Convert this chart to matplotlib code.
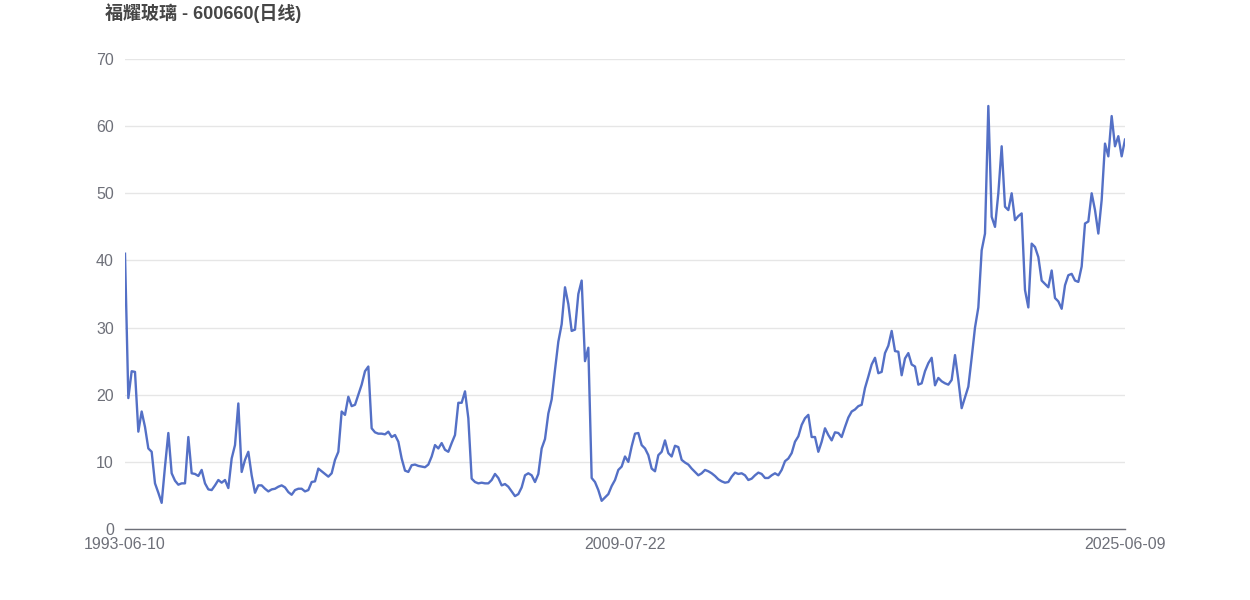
import numpy as np
import matplotlib
matplotlib.use('Agg')
import matplotlib.pyplot as plt

plt.rcParams['font.family'] = ['Liberation Sans', 'Noto Sans CJK SC', 'DejaVu Sans']

# Data (evenly spaced trading-day samples)
title = '福耀玻璃 - 600660(日线)'
date_labels = ['1993-06-10', '2009-07-22', '2025-06-09']
y_ticks = [0, 10, 20, 30, 40, 50, 60, 70]

prices = [
    41.0, 19.5, 23.5, 23.4, 14.5, 17.5, 15.2, 12.0, 11.5, 6.8,
    5.4, 3.9, 9.3, 14.3, 8.3, 7.2, 6.6, 6.8, 6.8, 13.7,
    8.3, 8.2, 7.9, 8.8, 6.8, 5.9, 5.8, 6.5, 7.3, 6.9,
    7.3, 6.1, 10.5, 12.5, 18.7, 8.5, 10.3, 11.5, 8.0, 5.4,
    6.5, 6.5, 6.0, 5.6, 5.9, 6.0, 6.3, 6.5, 6.2, 5.5,
    5.1, 5.8, 6.0, 6.0, 5.6, 5.8, 7.0, 7.1, 9.0, 8.6,
    8.2, 7.8, 8.3, 10.3, 11.5, 17.5, 17.0, 19.7, 18.3, 18.5,
    20.0, 21.5, 23.5, 24.2, 15.0, 14.4, 14.2, 14.2, 14.1, 14.5,
    13.7, 14.0, 13.0, 10.5, 8.7, 8.5, 9.5, 9.6, 9.4, 9.3,
    9.2, 9.6, 10.8, 12.5, 12.0, 12.8, 11.8, 11.5, 12.8, 14.0,
    18.8, 18.8, 20.5, 16.5, 7.5, 7.0, 6.8, 6.9, 6.8, 6.8,
    7.3, 8.2, 7.6, 6.5, 6.7, 6.3, 5.6, 4.9, 5.2, 6.2,
    8.0, 8.3, 8.0, 7.0, 8.2, 12.0, 13.4, 17.2, 19.3, 23.7,
    27.9, 30.5, 36.0, 33.5, 29.5, 29.7, 35.0, 37.0, 25.0, 27.0,
    7.6, 7.0, 5.8, 4.2, 4.7, 5.2, 6.4, 7.3, 8.8, 9.3,
    10.8, 10.0, 12.3, 14.2, 14.3, 12.5, 12.0, 11.0, 9.0, 8.6,
    11.0, 11.5, 13.2, 11.3, 10.8, 12.4, 12.2, 10.3, 9.9, 9.6,
    9.0, 8.5, 8.0, 8.3, 8.8, 8.6, 8.3, 7.9, 7.4, 7.1,
    6.9, 7.0, 7.8, 8.4, 8.2, 8.3, 8.0, 7.3, 7.5, 8.0,
    8.4, 8.2, 7.6, 7.6, 8.0, 8.3, 8.0, 8.8, 10.1, 10.5,
    11.3, 13.0, 13.8, 15.5, 16.5, 17.0, 13.7, 13.7, 11.5, 13.0,
    15.0, 14.0, 13.2, 14.4, 14.3, 13.7, 15.2, 16.6, 17.5, 17.8,
    18.3, 18.5, 21.0, 22.7, 24.5, 25.5, 23.2, 23.4, 26.2, 27.3,
    29.5, 26.5, 26.4, 22.9, 25.4, 26.2, 24.5, 24.2, 21.5, 21.7,
    23.5, 24.7, 25.5, 21.4, 22.5, 22.0, 21.7, 21.5, 22.2, 25.9,
    22.2, 18.0, 19.6, 21.2, 25.5, 30.0, 33.0, 41.5, 44.0, 63.0,
    46.5, 45.0, 50.0, 57.0, 48.0, 47.5, 50.0, 46.0, 46.6, 47.0,
    35.6, 33.0, 42.5, 42.0, 40.5, 37.0, 36.5, 36.0, 38.5, 34.4,
    33.9, 32.8, 36.3, 37.8, 38.0, 37.0, 36.8, 39.1, 45.5, 45.8,
    50.0, 47.5, 44.0, 49.0, 57.4, 55.5, 61.5, 57.0, 58.5, 55.5,
    58.0,
]

n = len(prices)
x = np.arange(n)

fig = plt.figure(figsize=(12.5, 6), dpi=100)
ax = fig.add_axes([0.1, 0.1183, 0.8, 0.7834])

ax.plot(x, prices, color='#5470c6', linewidth=1.7, solid_joinstyle='round')

ax.set_xlim(0, n - 1)
ax.set_ylim(0, 70)
ax.set_yticks(y_ticks)
ax.set_xticks([0, (n - 1) / 2, n - 1])
ax.set_xticklabels(date_labels)

ax.grid(axis='y', color='#e6e6e6', linewidth=1)
ax.set_axisbelow(True)
for side in ['top', 'right', 'left']:
    ax.spines[side].set_visible(False)
ax.spines['bottom'].set_color('#6e7079')
ax.spines['bottom'].set_linewidth(1)

ax.tick_params(axis='both', length=0, colors='#6e7079', labelsize=11.5)
ax.tick_params(axis='x', pad=6)
ax.tick_params(axis='y', pad=8)

fig.text(105 / 1250, 1 - 13 / 600, title, fontsize=13, fontweight='bold',
         color='#464646', ha='left', va='center')

fig.savefig('out.png', dpi=100)
